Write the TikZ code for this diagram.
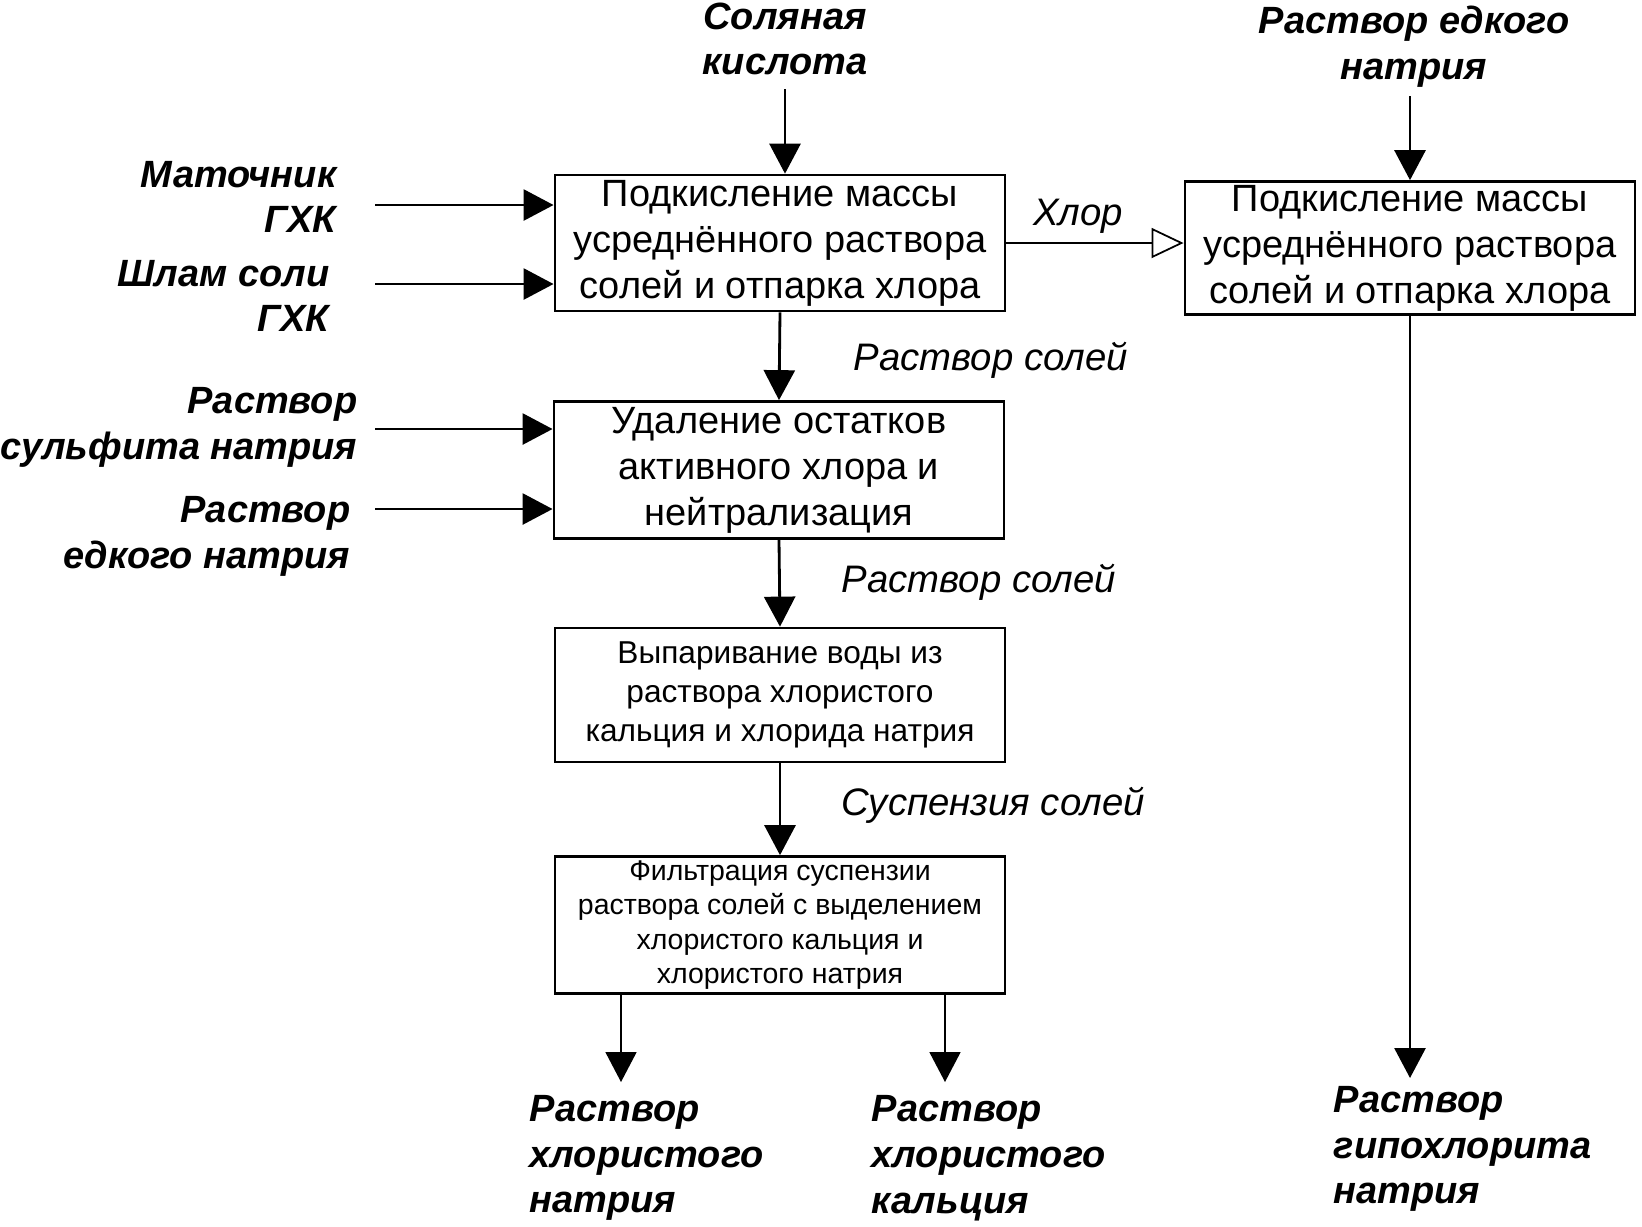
\documentclass[tikz,border=0pt]{standalone}
\usepackage{fontspec}
\setmainfont{Liberation Sans}
\usetikzlibrary{arrows.meta}

\begin{document}
\begin{tikzpicture}[x=0.01cm,y=-0.01cm,
stagebox/.style={rectangle, draw=black, line width=0.75pt, minimum width=4.5cm, align=center, inner sep=0pt},
bigtext/.style={font=\fontsize{10.8}{13.1}\selectfont},
inlabel/.style={font=\fontsize{10.8}{13}\selectfont\bfseries\itshape, inner sep=0pt},
flowlabel/.style={font=\fontsize{10.9}{13}\selectfont\itshape, inner sep=0pt},
arr/.style={line width=0.8pt, -{Triangle[width=3.1mm,length=3mm]}},
thinarr/.style={line width=0.5pt, -{Triangle[width=3.1mm,length=3mm]}}
]
\useasboundingbox (0,0) rectangle (1642,1226);

%Nodes
\node[stagebox, bigtext, minimum height=1.36cm] (acidify) at (780,243) {Подкисление массы\\усреднённого раствора\\солей и отпарка хлора};
\node[stagebox, bigtext, minimum height=1.33cm] (hypo) at (1410,248) {Подкисление массы\\усреднённого раствора\\солей и отпарка хлора};
\node[stagebox, bigtext, minimum height=1.37cm] (neutral) at (779,470) {Удаление остатков\\активного хлора и\\нейтрализация};
\node[stagebox, minimum height=1.34cm, font=\fontsize{9}{11}\selectfont] (evap) at (780,695) {Выпаривание воды из\\раствора хлористого\\кальция и хлорида натрия};
\node[stagebox, minimum height=1.37cm, font=\fontsize{8.1}{9.8}\selectfont] (filter) at (780,925) {Фильтрация суспензии\\раствора солей с выделением\\хлористого кальция и\\хлористого натрия};

\node[inlabel, align=center] (acid) at (785,39) {Соляная\\кислота};
\node[inlabel, align=center] (lye) at (1414,47) {Раствор едкого\\натрия};
\node[inlabel, align=right, anchor=east] (mother) at (337,197) {Маточник\\ГХК};
\node[inlabel, align=right, anchor=east] (sludge) at (330,296) {Шлам соли\\ГХК};
\node[inlabel, align=right, anchor=east] (sulfite) at (358,427) {Раствор\\сульфита натрия};
\node[inlabel, align=right, anchor=east] (soda) at (351,536) {Раствор\\едкого натрия};
\node[inlabel, align=left, anchor=west] (nacl) at (529,1158) {Раствор\\хлористого\\натрия};
\node[inlabel, align=left, anchor=west] (cacl) at (871,1158) {Раствор\\хлористого\\кальция};
\node[inlabel, align=left, anchor=west] (naocl) at (1333,1149) {Раствор\\гипохлорита\\натрия};

\node[flowlabel] (chlorine) at (1078,216) {Хлор};
\node[flowlabel, anchor=west] (salts1) at (853,360) {Раствор солей};
\node[flowlabel, anchor=west] (salts2) at (841,582) {Раствор солей};
\node[flowlabel, anchor=west] (susp) at (841,805) {Суспензия солей};

\coordinate (acidin) at (785,89);
\coordinate (lyein) at (1410,96);
\coordinate (in1) at (375,205);
\coordinate (in2) at (375,284);
\coordinate (in3) at (375,429);
\coordinate (in4) at (375,509);
\coordinate (out1) at (621,1082);
\coordinate (out2) at (945,1082);
\coordinate (out3) at (1410,1078);

%Lines
\draw[arr] (acidin) -- (acidin |- acidify.north);
\draw[arr] (lyein) -- (hypo.north);
\draw[arr] (in1) -- (in1 -| acidify.west);
\draw[arr] (in2) -- (in2 -| acidify.west);
\draw[arr] (in3) -- (in3 -| neutral.west);
\draw[arr] (in4) -- (in4 -| neutral.west);
\draw[line width=0.5pt, -{Triangle[open,width=3mm,length=3.2mm]}] (acidify.east) -- (acidify.east -| hypo.west);
\draw[arr] (acidify.south) -- (neutral.north);
\draw[arr] (neutral.south) -- (evap.north);
\draw[arr] (evap.south) -- (filter.north);
\draw[thinarr] (out1 |- filter.south) -- (out1);
\draw[thinarr] (out2 |- filter.south) -- (out2);
\draw[arr] (hypo.south) -- (out3);

\end{tikzpicture}
\end{document}
